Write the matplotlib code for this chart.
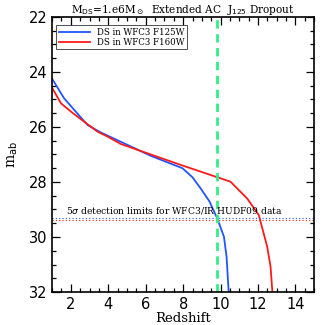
import matplotlib.pyplot as plt
from matplotlib.ticker import MultipleLocator

# curve samples
z_f125 = [1.0, 1.64, 2.18, 2.89, 3.6, 5.02, 6.27, 7.96, 8.5, 8.93, 9.4, 9.82, 10.18, 10.32, 10.45]
m_f125 = [24.25, 24.96, 25.38, 25.93, 26.2, 26.65, 27.05, 27.5, 27.83, 28.23, 28.7, 29.32, 29.99, 30.72, 32.2]
z_f160 = [1.0, 1.47, 2.0, 2.71, 3.42, 3.96, 4.67, 7.87, 10.53, 11.42, 12.04, 12.49, 12.67, 12.79]
m_f160 = [24.58, 25.14, 25.44, 25.81, 26.17, 26.35, 26.62, 27.38, 27.99, 28.6, 29.2, 30.35, 31.08, 32.2]
lim_f125 = 29.3
lim_f160 = 29.4
z_cut = 9.8

blue = '#2255ff'
red = '#ff1a1a'
serif = 'DejaVu Serif'

fig = plt.figure(figsize=(3.3, 3.25), dpi=100)
ax = fig.add_axes([0.158, 0.1015, 0.794, 0.8465])

ax.plot(z_f125, m_f125, color=blue, lw=1.3, label='DS in WFC3 F125W')
ax.plot(z_f160, m_f160, color=red, lw=1.3, label='DS in WFC3 F160W')
ax.axhline(lim_f125, color=blue, lw=0.8, ls=(0, (1, 2)))
ax.axhline(lim_f160, color=red, lw=0.8, ls=(0, (1, 2)))
ax.axvline(z_cut, color='#33ee88', lw=2, ls=(0, (3, 2)))
ax.text(1.75, 29.02, r'5$\sigma$ detection limits for WFC3/IR HUDF09 data',
        fontsize=6.6, family=serif, va='center')

ax.set_xlim(1, 15)
ax.set_ylim(32, 22)
ax.xaxis.set_major_locator(MultipleLocator(2))
ax.xaxis.set_minor_locator(MultipleLocator(0.5))
ax.yaxis.set_major_locator(MultipleLocator(2))
ax.yaxis.set_minor_locator(MultipleLocator(0.5))
ax.tick_params(which='both', direction='in', top=True, right=True, labelsize=10.5, width=0.9)
ax.tick_params(which='major', length=6)
ax.tick_params(which='minor', length=3)
for s in ax.spines.values():
    s.set_linewidth(1.2)

ax.set_xlabel('Redshift', family=serif, fontsize=9.5, labelpad=0)
ax.set_ylabel(r'm$_{\rm ab}$', family=serif, fontsize=10, labelpad=6)
ax.set_title(r'M$_{\rm DS}$=1.e6M$_\odot$  Extended AC  J$_{125}$ Dropout',
             family=serif, fontsize=7.6, pad=3)

leg = ax.legend(loc='upper left', prop={'family': serif, 'size': 6.2}, frameon=True,
                fancybox=False, edgecolor='black', handlelength=3.6, borderpad=0.3,
                labelspacing=0.1, bbox_to_anchor=(0.0, 0.985))
leg.get_frame().set_linewidth(0.6)

fig.savefig('out.png', dpi=100)
